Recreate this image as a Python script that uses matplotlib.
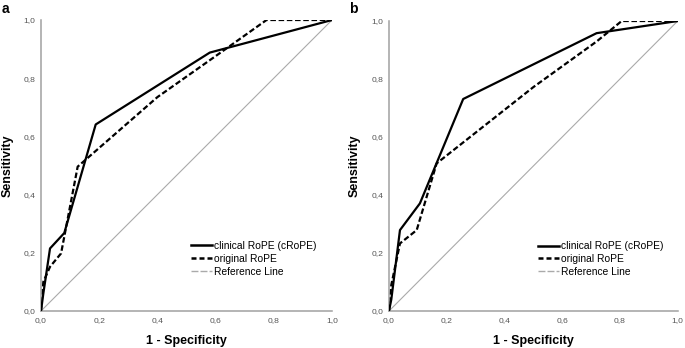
import matplotlib
matplotlib.use("Agg")
import matplotlib.pyplot as plt
from matplotlib.lines import Line2D

plt.rcParams['font.family'] = ['Liberation Sans', 'DejaVu Sans']

# Panel a
a_crope_x = [0.0, 0.008, 0.031, 0.080, 0.188, 0.580, 1.0]
a_crope_y = [0.0, 0.06, 0.215, 0.268, 0.641, 0.888, 1.0]
a_orig_x = [0.0, 0.008, 0.031, 0.069, 0.126, 0.165, 0.40, 0.62, 0.775, 1.0]
a_orig_y = [0.0, 0.10, 0.152, 0.198, 0.496, 0.530, 0.735, 0.890, 1.0, 1.0]

# Panel b
b_crope_x = [0.0, 0.008, 0.038, 0.107, 0.257, 0.719, 1.0]
b_crope_y = [0.0, 0.04, 0.279, 0.371, 0.731, 0.958, 1.0]
b_orig_x = [0.0, 0.008, 0.038, 0.096, 0.165, 0.50, 0.72, 0.806, 1.0]
b_orig_y = [0.0, 0.09, 0.233, 0.279, 0.509, 0.772, 0.930, 1.0, 1.0]

ref_x = [0.0, 1.0]
ref_y = [0.0, 1.0]

ticks = [0.0, 0.2, 0.4, 0.6, 0.8, 1.0]
tick_labels = ['0,0', '0,2', '0,4', '0,6', '0,8', '1,0']
legend_labels = ['clinical RoPE (cRoPE)', 'original RoPE', 'Reference Line']
panel_labels = ['a', 'b']

fig = plt.figure(figsize=(6.85, 3.48), dpi=100)
axa = fig.add_axes([41/685, 1-311/348, 291/685, 291/348])
axb = fig.add_axes([389/685, 1-311/348, 288.7/685, 290/348])

spine_col = '#a0a0a0'
ref_col = '#aaaaaa'
dash = (0, (2.5, 1.2))

for ax, cx, cy, ox, oy, pl, px, ylx in [
    (axa, a_crope_x, a_crope_y, a_orig_x, a_orig_y, panel_labels[0], 2/685, (8-41)/291),
    (axb, b_crope_x, b_crope_y, b_orig_x, b_orig_y, panel_labels[1], 349/685, (355-389)/288.7),
]:
    ax.plot(ref_x, ref_y, color=ref_col, lw=0.8, zorder=1)
    ax.plot(ox, oy, color='black', lw=1.6, linestyle=dash, zorder=2)
    ax.plot(cx, cy, color='black', lw=1.6, zorder=3)
    ax.set_xlim(0, 1)
    ax.set_ylim(0, 1)
    ax.set_xticks(ticks)
    ax.set_xticklabels(tick_labels)
    ax.set_yticks(ticks)
    ax.set_yticklabels(tick_labels)
    ax.tick_params(length=0, labelsize=6.1, labelcolor='#555555', pad=4)
    for s in ['top', 'right']:
        ax.spines[s].set_visible(False)
    for s in ['left', 'bottom']:
        ax.spines[s].set_color(spine_col)
        ax.spines[s].set_linewidth(1.1)
    ax.set_xlabel('1 - Specificity', fontsize=9, fontweight='bold', labelpad=8)
    ax.set_ylabel('Sensitivity', fontsize=9, fontweight='bold')
    ax.yaxis.label.set_verticalalignment('center')
    ax.yaxis.set_label_coords(ylx, 0.5)
    handles = [
        Line2D([], [], color='black', lw=1.8),
        Line2D([], [], color='black', lw=1.8, linestyle=(0, (2.0, 1.2))),
        Line2D([], [], color=ref_col, lw=1.0, linestyle=(0, (5, 1.5))),
    ]
    ax.legend(handles, legend_labels, loc='upper left', bbox_to_anchor=(0.515, 0.241),
              frameon=False, fontsize=7.4, handlelength=2.1, handletextpad=0.15,
              labelspacing=0.28, borderpad=0, borderaxespad=0)
    fig.text(px, 1-13/348, pl, fontsize=10, fontweight='bold', ha='left', va='baseline')

fig.savefig('out.png', dpi=100)
